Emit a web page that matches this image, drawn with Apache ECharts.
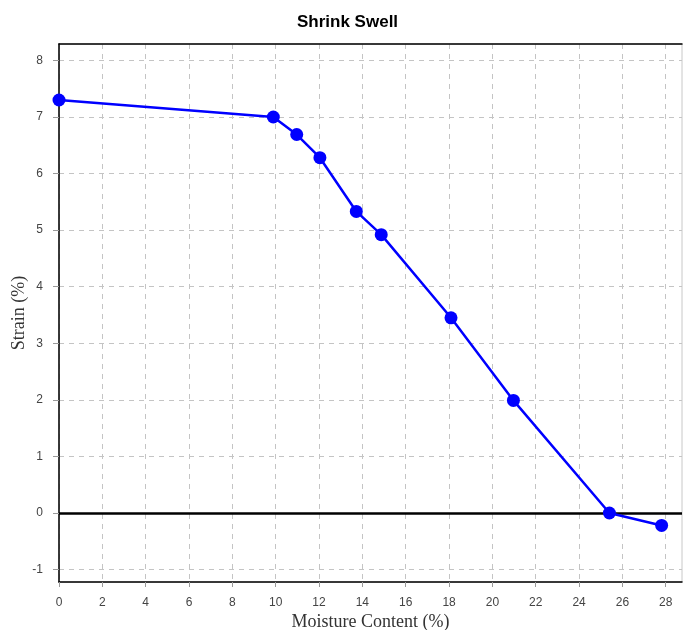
<!DOCTYPE html>
<html>
<head>
<meta charset="utf-8">
<script src="https://cdn.jsdelivr.net/npm/echarts@6/dist/echarts.min.js"></script>
<style>html,body{margin:0;padding:0;background:#fff;}#c{width:683px;height:630px;}</style>
</head>
<body>
<div id="c"></div>
<script>
const moisture = [0, 9.89, 10.97, 12.04, 13.72, 14.87, 18.09, 20.97, 25.4, 27.81];
const strain = [7.3, 7.0, 6.69, 6.28, 5.33, 4.92, 3.45, 1.99, 0.0, -0.22];
const xTicks = [0, 2, 4, 6, 8, 10, 12, 14, 16, 18, 20, 22, 24, 26, 28];
const yTicks = [-1, 0, 1, 2, 3, 4, 5, 6, 7, 8];

const chart = echarts.init(document.getElementById('c'), null, {renderer: 'canvas'});
const pts = moisture.map((x, i) => [x, strain[i]]);
const tickFont = {color: '#444', fontSize: 12, fontFamily: 'Liberation Sans, Arial, sans-serif'};
const nameFont = {color: '#333', fontSize: 18, fontFamily: 'Liberation Serif, Times New Roman, serif'};
const gridLine = {show: true, lineStyle: {color: '#c4c4c4', type: [5, 5], width: 1}};
chart.setOption({
  animation: false,
  backgroundColor: '#fff',
  title: {
    text: 'Shrink Swell', left: 292, top: 9,
    textStyle: {fontSize: 17, fontWeight: 'bold', color: '#000', fontFamily: 'Liberation Sans, Arial, sans-serif'}
  },
  grid: {left: 59, top: 44, width: 623, height: 538, show: true, borderColor: '#c8c8c8', borderWidth: 1, containLabel: false, outerBoundsMode: 'none'},
  xAxis: [{
    type: 'value', min: 0, max: 28.75,
    name: 'Moisture Content (%)', nameLocation: 'middle', nameGap: 31, nameMoveOverlap: false, nameTextStyle: nameFont,
    axisLine: {show: true, onZero: false, lineStyle: {color: '#000', width: 1.5}},
    axisTick: {show: true, length: 5, customValues: xTicks, lineStyle: {color: '#999'}},
    axisLabel: {customValues: xTicks, margin: 15, ...tickFont, showMaxLabel: true},
    splitLine: gridLine
  }, {
    type: 'value', position: 'top', min: 0, max: 28.75,
    axisLine: {show: true, onZero: false, lineStyle: {color: '#000', width: 1.5}},
    axisTick: {show: false}, axisLabel: {show: false}, splitLine: {show: false}
  }],
  yAxis: {
    type: 'value', min: -1.22, max: 8.29,
    name: 'Strain (%)', nameLocation: 'middle', nameGap: 31, nameMoveOverlap: false, nameTextStyle: nameFont,
    axisLine: {show: true, onZero: false, lineStyle: {color: '#000', width: 1.5}},
    axisTick: {show: true, length: 6, customValues: yTicks, lineStyle: {color: '#999'}},
    axisLabel: {customValues: yTicks, margin: 16, ...tickFont},
    splitLine: gridLine
  },
  series: [{
    type: 'line', data: pts, xAxisIndex: 0,
    lineStyle: {color: '#0000ff', width: 2.5},
    itemStyle: {color: '#0000ff'},
    symbol: 'circle', symbolSize: 13, showSymbol: true,
    z: 5,
    markLine: {
      silent: true, symbol: 'none', label: {show: false},
      lineStyle: {color: '#000', width: 2.5, type: 'solid'},
      data: [{yAxis: 0}], z: 3
    }
  }]
});
</script>
</body>
</html>
